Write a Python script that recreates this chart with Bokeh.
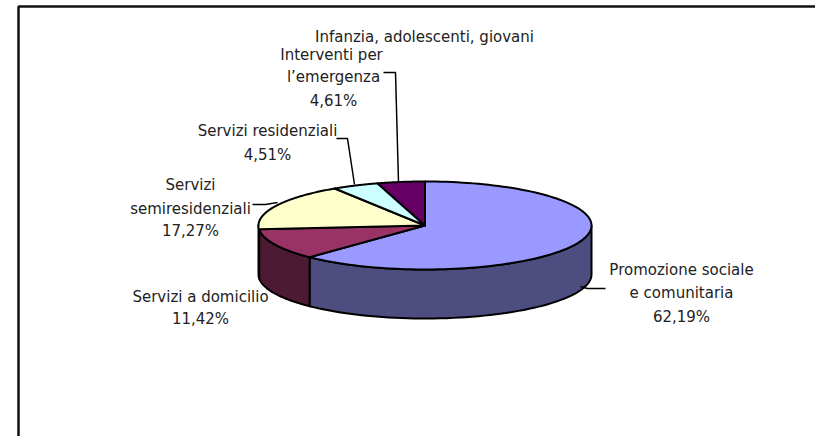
import math
from bokeh.plotting import figure
from bokeh.embed import file_html
from bokeh.resources import INLINE
from bokeh.core.properties import value

categories = ["Promozione sociale e comunitaria", "Servizi a domicilio",
              "Servizi semiresidenziali", "Servizi residenziali",
              "Infanzia, adolescenti, giovani / Interventi per l'emergenza"]
shares = [62.19, 11.42, 17.27, 4.51, 4.61]
top_colors = ["#9999FF", "#993366", "#FFFFCC", "#CCFFFF", "#660066"]
side_colors = ["#4D4D80", "#4D1A33", "#808066", "#668080", "#330033"]

label_lines = ["Infanzia, adolescenti, giovani", "Interventi per", "l\u2019emergenza", "4,61%",
               "Servizi residenziali", "4,51%",
               "Servizi", "semiresidenziali", "17,27%",
               "Servizi a domicilio", "11,42%",
               "Promozione sociale", "e comunitaria", "62,19%"]
label_x = [424, 331, 333, 333, 267, 267, 190, 190, 190, 200, 200, 681, 681, 681]
label_y = [36, 54, 76, 100, 130, 154, 184, 208, 230, 296, 318, 269, 292, 316]

leaders = [([383, 395, 398], [72, 72, 182]),
           ([336, 347, 354], [138, 138, 184]),
           ([252, 265, 277], [204, 204, 202]),
           ([580, 587, 605], [286, 288, 288])]

CX, CY, RX, RY, DEPTH = 424.5, 225.0, 166.5, 44.0, 49.0
W, H = 815, 436

p = figure(width=W, height=H, x_range=(0, W), y_range=(H, 0), output_backend="svg",
           toolbar_location=None, min_border=0, outline_line_color=None)
p.axis.visible = False
p.grid.visible = False

def pt(t, dy=0.0):
    return CX + RX * math.sin(t), CY - RY * math.cos(t) + dy

# slices boundaries, clockwise from 12 o'clock
edges = [0.0]
for s in shares:
    edges.append(edges[-1] + s / sum(shares) * 2 * math.pi)

# side walls (front half only)
for i in range(len(shares)):
    a = max(edges[i], math.pi / 2)
    b = min(edges[i + 1], 3 * math.pi / 2)
    if b <= a:
        continue
    ts = [a + (b - a) * k / 60 for k in range(61)]
    upper = [pt(t) for t in ts]
    lower = [pt(t, DEPTH) for t in reversed(ts)]
    poly = upper + lower
    p.patch([q[0] for q in poly], [q[1] for q in poly], fill_color=side_colors[i],
            line_color="black", line_width=2, line_join="round")

# top faces
for i in range(len(shares)):
    a, b = edges[i], edges[i + 1]
    ts = [a + (b - a) * k / 120 for k in range(121)]
    poly = [(CX, CY)] + [pt(t) for t in ts]
    p.patch([q[0] for q in poly], [q[1] for q in poly], fill_color=top_colors[i],
            line_color="black", line_width=2, line_join="round")

# leader lines
for xs, ys in leaders:
    p.line(xs, ys, line_color="black", line_width=1.5)

# chart frame (its right and bottom sides lie outside the picture)
p.line([18, 18, W + 5], [H + 5, 6, 6], line_color="#111111", line_width=2.5)

p.text(label_x, label_y, text=label_lines, text_align="center", text_baseline="middle",
       text_font=value("DejaVu Sans"), text_font_size="15px", text_color="#222222")

open("out.html", "w").write(file_html(p, INLINE))
